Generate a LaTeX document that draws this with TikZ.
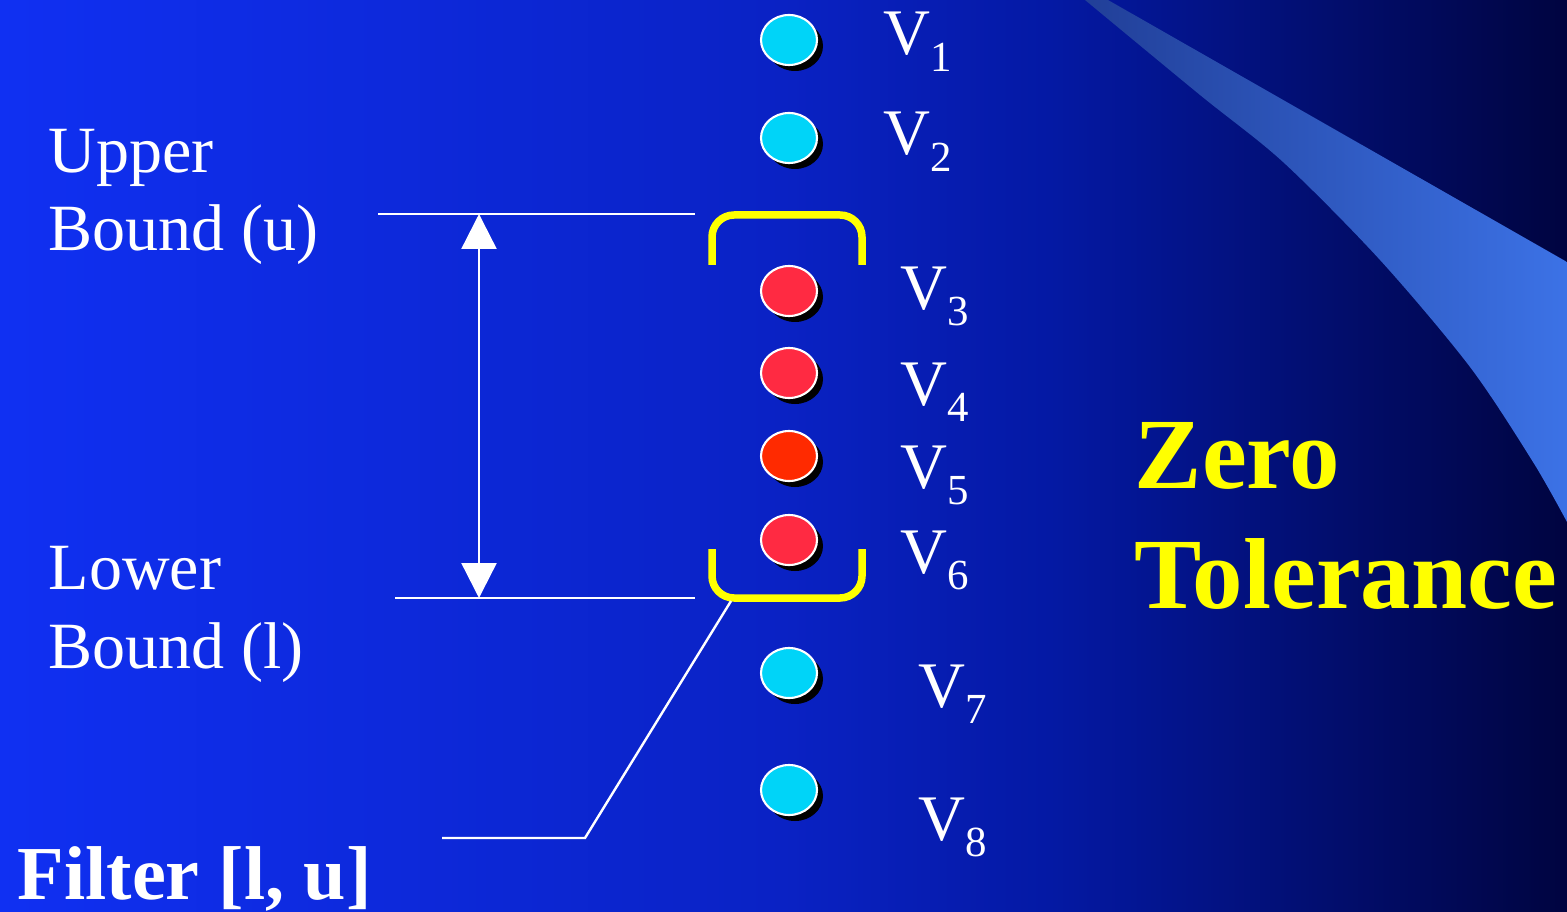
\documentclass[tikz,border=0pt]{standalone}
\usepackage{fontspec}
\setmainfont{Liberation Serif}
\usetikzlibrary{arrows.meta, shapes.geometric, shadows}
\definecolor{bgLeft}{HTML}{1030F2}
\definecolor{bgMid}{HTML}{0A22C4}
\definecolor{bgDeep}{HTML}{0419A4}
\definecolor{bgRight}{HTML}{000440}
\definecolor{swooshDim}{HTML}{213F98}
\definecolor{swooshLit}{HTML}{3C72E6}
\definecolor{dotCyan}{HTML}{00D4F8}
\definecolor{dotRed}{HTML}{FF2A42}
\definecolor{dotHot}{HTML}{FF2A00}
\definecolor{filterYellow}{HTML}{FFFF00}
\pgfdeclarehorizontalshading{slidebg}{100bp}{color(0bp)=(bgLeft); color(25bp)=(bgLeft);
  color(50bp)=(bgMid); color(58.5bp)=(bgDeep); color(75bp)=(bgRight); color(100bp)=(bgRight)}
\newcommand{\vsub}[1]{\raisebox{-4.8pt}{\fontsize{12.2}{12}\selectfont#1}}
\tikzset{
  dot/.style     = {ellipse, draw=white, line width=0.6pt, inner sep=0pt,
                    minimum width=5.6mm, minimum height=5mm,
                    drop shadow={shadow xshift=0.6mm, shadow yshift=-0.6mm, fill=black, opacity=1}},
  dotout/.style  = {dot, fill=dotCyan},
  dotin/.style   = {dot, fill=dotRed},
  dothot/.style  = {dot, fill=dotHot},
  vlab/.style    = {text=white, font=\fontsize{18.5}{20}\selectfont, inner sep=0pt, anchor=base west},
  side/.style    = {text=white, font=\fontsize{18.8}{22.2}\selectfont, inner sep=0pt,
                    align=left, anchor=base west},
  wline/.style   = {draw=white, line width=0.24mm},
  span/.style    = {wline, {Triangle[length=3.5mm, width=3.5mm]}-{Triangle[length=3.5mm, width=3.5mm]}},
  bracket/.style = {draw=filterYellow, line width=0.75mm, rounded corners=2.2mm}
}

\begin{document}
\begin{tikzpicture}[x=0.1mm, y=-0.1mm]
  \useasboundingbox (0,0) rectangle (1567,912);

  % --- slide background and swoosh
  \shade[shading=slidebg] (0,0) rectangle (1567,912);
  \shade[left color=swooshDim, right color=swooshLit]
    (1108,0) -- (1567,262) -- plot[smooth, tension=0.5] coordinates
    {(1567,522) (1533,462) (1470,367) (1380,260) (1283,162) (1200,95) (1085,0)} -- cycle;

  % --- values
  \node[dotout] (v1) at (789,40)  {};
  \node[dotout] (v2) at (789,138) {};
  \node[dotin]  (v3) at (789,291) {};
  \node[dotin]  (v4) at (789,373) {};
  \node[dothot] (v5) at (789,456) {};
  \node[dotin]  (v6) at (789,540) {};
  \node[dotout] (v7) at (789,673) {};
  \node[dotout] (v8) at (789,790) {};

  \node[vlab] (l1) at (883,55)  {V\vsub{1}};
  \node[vlab] (l2) at (883,155) {V\vsub{2}};
  \node[vlab] (l3) at (900,309) {V\vsub{3}};
  \node[vlab] (l4) at (900,405) {V\vsub{4}};
  \node[vlab] (l5) at (900,488) {V\vsub{5}};
  \node[vlab] (l6) at (900,573) {V\vsub{6}};
  \node[vlab] (l7) at (918,707) {V\vsub{7}};
  \node[vlab] (l8) at (918,840) {V\vsub{8}};

  % --- filter brackets
  \draw[bracket] (712,265) -- (712,215) -- (862,215) -- (862,265);
  \draw[bracket] (712,549) -- (712,598) -- (862,598) -- (862,549);

  % --- bounds
  \node[side] (upper) at (48,251) {Upper\\Bound (u)};
  \node[side] (lower) at (48,668) {Lower\\Bound (l)};
  \coordinate (ubl) at (378,214);
  \coordinate (ubr) at (695,214);
  \coordinate (lbl) at (395,598);
  \coordinate (lbr) at (695,598);
  \coordinate (utip) at (479,214);
  \coordinate (ltip) at (479,598);
  \draw[wline] (ubl) -- (ubr);
  \draw[wline] (lbl) -- (lbr);
  \draw[span] (ltip) -- (utip);

  % --- filter label and leader
  \node[text=white, font=\bfseries\fontsize{21.7}{26}\selectfont, inner sep=0pt, anchor=base west]
       (filter) at (17,899) {Filter [l, u]};
  \coordinate (leadtop) at (731,601);
  \coordinate (leadknee) at (585,838);
  \coordinate (leadend) at (442,838);
  \draw[wline] (leadtop) -- (leadknee) -- (leadend);

  \node[text=filterYellow, font=\bfseries\fontsize{28.7}{34.1}\selectfont, inner sep=0pt,
        align=left, anchor=base west] (zero) at (1134,608) {Zero\\Tolerance};
\end{tikzpicture}
\end{document}
